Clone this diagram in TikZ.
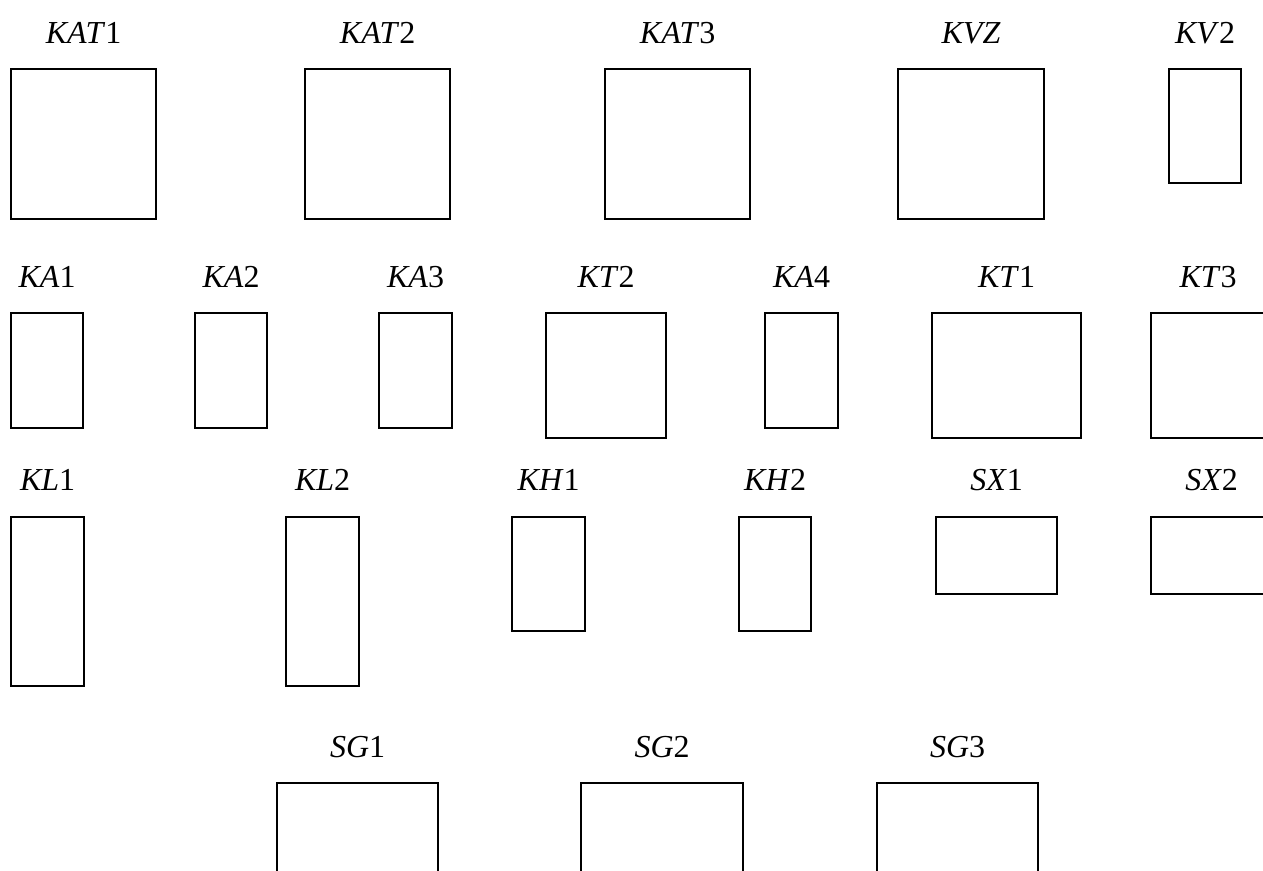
\documentclass[tikz,border=0pt]{standalone}
\usepackage{fontspec}
\setmainfont{Liberation Serif}
\usetikzlibrary{positioning}

\begin{document}
\begin{tikzpicture}[x=1pt,y=-1pt,
    blok/.style={draw,line width=2.2pt,inner sep=0pt,anchor=north west},
    nadpis/.style={anchor=base,inner sep=0pt,font=\fontsize{32}{36}\selectfont}]
    \useasboundingbox (0,0) rectangle (1263,870);
    % row 1
    \node[blok,minimum width=145pt,minimum height=150pt] (kat1) at (10,68) {};
    \node[blok,minimum width=145pt,minimum height=150pt] (kat2) at (304,68) {};
    \node[blok,minimum width=145pt,minimum height=150pt] (kat3) at (604,68) {};
    \node[blok,minimum width=146pt,minimum height=150pt] (kvz) at (897,68) {};
    \node[blok,minimum width=72pt,minimum height=114pt] (kv2) at (1168,68) {};
    \node[nadpis] (lkat1) at ([yshift=25pt]kat1.north) {\textit{KAT}1};
    \node[nadpis] (lkat2) at ([yshift=25pt]kat2.north) {\textit{KAT}2};
    \node[nadpis] (lkat3) at ([yshift=25pt]kat3.north) {\textit{KAT}3};
    \node[nadpis] (lkvz) at ([yshift=25pt]kvz.north) {\textit{KVZ}};
    \node[nadpis] (lkv2) at ([yshift=25pt]kv2.north) {\textit{KV}2};
    % row 2
    \node[blok,minimum width=72pt,minimum height=115pt] (ka1) at (10,312) {};
    \node[blok,minimum width=72pt,minimum height=115pt] (ka2) at (194,312) {};
    \node[blok,minimum width=73pt,minimum height=115pt] (ka3) at (378,312) {};
    \node[blok,minimum width=120pt,minimum height=125pt] (kt2) at (545,312) {};
    \node[blok,minimum width=73pt,minimum height=115pt] (ka4) at (764,312) {};
    \node[blok,minimum width=149pt,minimum height=125pt] (kt1) at (931,312) {};
    \node[blok,minimum width=120pt,minimum height=125pt] (kt3) at (1150,312) {};
    \node[nadpis] (lka1) at ([yshift=25pt]ka1.north) {\textit{KA}1};
    \node[nadpis] (lka2) at ([yshift=25pt]ka2.north) {\textit{KA}2};
    \node[nadpis] (lka3) at ([yshift=25pt]ka3.north) {\textit{KA}3};
    \node[nadpis] (lkt2) at ([yshift=25pt]kt2.north) {\textit{KT}2};
    \node[nadpis] (lka4) at ([yshift=25pt]ka4.north) {\textit{KA}4};
    \node[nadpis] (lkt1) at ([yshift=25pt]kt1.north) {\textit{KT}1};
    \node[nadpis] (lkt3) at ([xshift=-3pt,yshift=25pt]kt3.north) {\textit{KT}3};
    % row 3
    \node[blok,minimum width=73pt,minimum height=169pt] (kl1) at (10,516) {};
    \node[blok,minimum width=73pt,minimum height=169pt] (kl2) at (285,516) {};
    \node[blok,minimum width=73pt,minimum height=114pt] (kh1) at (511,516) {};
    \node[blok,minimum width=72pt,minimum height=114pt] (kh2) at (738,516) {};
    \node[blok,minimum width=121pt,minimum height=77pt] (sx1) at (935,516) {};
    \node[blok,minimum width=121pt,minimum height=77pt] (sx2) at (1150,516) {};
    \node[nadpis] (lkl1) at ([yshift=26pt]kl1.north) {\textit{KL}1};
    \node[nadpis] (lkl2) at ([yshift=26pt]kl2.north) {\textit{KL}2};
    \node[nadpis] (lkh1) at ([yshift=26pt]kh1.north) {\textit{KH}1};
    \node[nadpis] (lkh2) at ([yshift=26pt]kh2.north) {\textit{KH}2};
    \node[nadpis] (lsx1) at ([yshift=26pt]sx1.north) {\textit{SX}1};
    \node[nadpis] (lsx2) at ([yshift=26pt]sx2.north) {\textit{SX}2};
    % row 4
    \node[blok,minimum width=161pt,minimum height=120pt] (sg1) at (276,782) {};
    \node[blok,minimum width=162pt,minimum height=120pt] (sg2) at (580,782) {};
    \node[blok,minimum width=161pt,minimum height=120pt] (sg3) at (876,782) {};
    \node[nadpis] (lsg1) at ([yshift=25pt]sg1.north) {\textit{SG}1};
    \node[nadpis] (lsg2) at ([yshift=25pt]sg2.north) {\textit{SG}2};
    \node[nadpis] (lsg3) at ([yshift=25pt]sg3.north) {\textit{SG}3};
\end{tikzpicture}
\end{document}
